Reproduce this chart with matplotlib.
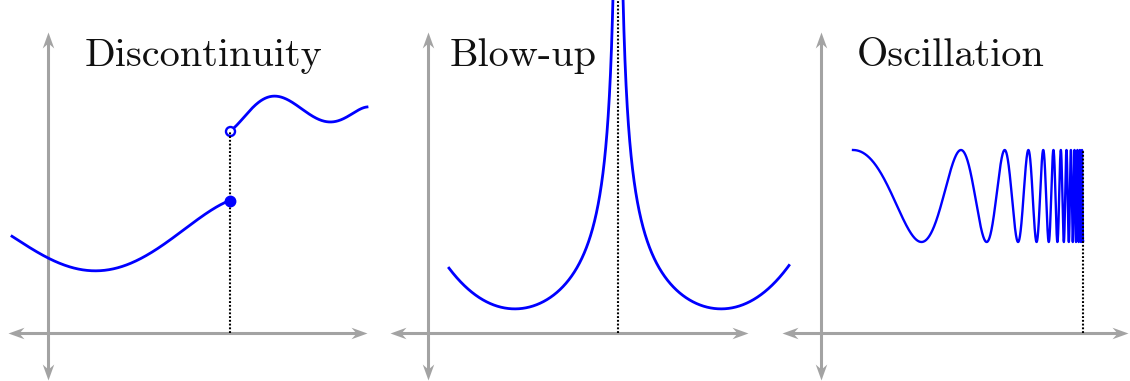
import numpy as np
import matplotlib
matplotlib.use("Agg")
import matplotlib.pyplot as plt
from matplotlib.path import Path

# figure is 1130 x 381 px, every panel uses 10 px per data unit
W, H = 1130, 381
UNIT = 10.0

# --- panel 1: discontinuity ---
lower_x = [-3.6, 0.2, 4.9, 8.5, 11.2, 13.9, 16.5, 18.2]
lower_y = [9.7, 7.3, 6.4, 7.0, 8.5, 10.6, 12.5, 13.2]
upper_x = [18.2, 20.5, 22.7, 24.2, 26.2, 28.2, 30.2, 31.9]
upper_y = [20.2, 22.6, 23.6, 23.3, 21.8, 21.1, 21.8, 22.6]
jump_x = 18.2

# --- panel 2: blow-up  y = a/sqrt(|x-x0|) + b + c*|x-x0|^3.5 ---
blow_x0 = 19.0
blow_range = [-16.9, 17.1]
blow_coef = [29.54, -8.1, 3.73e-4]

# --- panel 3: oscillation  y = mid + amp*cos(k/(t+s) - k/(T+s)), t = end - x ---
osc_range = [3.2, 26.2]
osc_mid, osc_amp = 13.7, 4.6
osc_k, osc_shift = 218.2, 2.5

titles = ["Discontinuity", "Blow-up", "Oscillation"]

# pixel layout: (left px, right px, origin x px), origin y px shared
panels_px = [(0, 378, 48), (378, 775, 428), (775, 1130, 821)]
origin_y_px = 333
hx_px = [(8, 367), (390, 748), (782, 1128)]
vy_px = (32, 380)
title_px = [85, 450, 857]
title_base_px = 66

BLUE = "#0000ff"
GRAY = "#a3a3a3"
HEAD_PX = 16  # arrow head length

fig = plt.figure(figsize=(W / 100, H / 100), dpi=100)


def stealth(angle):
    # tip at origin, pointing along +x, then rotated
    pts = np.array([(0, 0), (-1, 0.36), (-0.68, 0), (-1, -0.36), (0, 0)])
    ca, sa = np.cos(angle), np.sin(angle)
    rot = pts @ np.array([[ca, sa], [-sa, ca]])
    codes = [Path.MOVETO, Path.LINETO, Path.LINETO, Path.LINETO, Path.CLOSEPOLY]
    return Path(rot, codes)


def make_axes(left, right, ox):
    ax = fig.add_axes([left / W, 0, (right - left) / W, 1])
    ax.set_xlim((left - ox) / UNIT, (right - ox) / UNIT)
    ax.set_ylim(-(H - origin_y_px) / UNIT, origin_y_px / UNIT)
    ax.axis("off")
    return ax


def draw_axes_arrows(ax, ox, hx):
    x0, x1 = [(p - ox) / UNIT for p in hx]
    y1 = (origin_y_px - vy_px[0]) / UNIT
    y0 = (origin_y_px - vy_px[1]) / UNIT
    back = 0.6 * HEAD_PX / UNIT
    ms = 2 * HEAD_PX * 0.72
    ax.plot([x0 + back, x1 - back], [0, 0], color=GRAY, linewidth=2.2,
            solid_capstyle="butt", clip_on=False, zorder=1)
    ax.plot([0, 0], [y0 + back, y1 - back], color=GRAY, linewidth=2.2,
            solid_capstyle="butt", clip_on=False, zorder=1)
    for (px, py), ang in [((x0, 0), np.pi), ((x1, 0), 0.0),
                          ((0, y0), -np.pi / 2), ((0, y1), np.pi / 2)]:
        ax.plot([px], [py], marker=stealth(ang), markersize=ms, color=GRAY,
                markeredgewidth=0, linestyle="none", clip_on=False, zorder=1)


def dotted(ax, x, y0, y1):
    ax.plot([x, x], [y0, y1], color="black", linewidth=1.5,
            linestyle=(0, (0.9, 0.9)), clip_on=False, zorder=4)


axes = []
for (left, right, ox), hx in zip(panels_px, hx_px):
    ax = make_axes(left, right, ox)
    draw_axes_arrows(ax, ox, hx)
    axes.append(ax)

# panel 1
ax = axes[0]
xs = np.linspace(lower_x[0], lower_x[-1], 300)
ax.plot(xs, np.polyval(np.polyfit(lower_x, lower_y, 4), xs),
        color=BLUE, linewidth=2.0, clip_on=False, zorder=3)
xs = np.linspace(upper_x[0], upper_x[-1], 300)
ax.plot(xs, np.polyval(np.polyfit(upper_x, upper_y, 5), xs),
        color=BLUE, linewidth=2.0, clip_on=False, zorder=3)
ax.plot([jump_x], [upper_y[0]], "o", markersize=6.5, markerfacecolor="white",
        markeredgecolor=BLUE, markeredgewidth=1.7, zorder=3)
dotted(ax, jump_x, 0, upper_y[0])
ax.plot([jump_x], [lower_y[-1]], "o", markersize=7.5, color=BLUE, zorder=5)

# panel 2
ax = axes[1]
a, b, c = blow_coef
for lo, hi in [(blow_range[0], -0.02), (0.02, blow_range[1])]:
    u = np.linspace(lo, hi, 2000)
    r = np.abs(u)
    ax.plot(blow_x0 + u, a / np.sqrt(r) + b + c * r ** 3.5,
            color=BLUE, linewidth=2.0, clip_on=False, zorder=3)
dotted(ax, blow_x0, 0, 40)

# panel 3
ax = axes[2]
xs = np.linspace(osc_range[0], osc_range[1], 60000)
t = osc_range[1] - xs
T = osc_range[1] - osc_range[0]
phase = osc_k / (t + osc_shift) - osc_k / (T + osc_shift)
ax.plot(xs, osc_mid + osc_amp * np.cos(phase), color=BLUE, linewidth=1.7,
        clip_on=False, zorder=3)
dotted(ax, osc_range[1], 0, osc_mid + osc_amp)

# titles
for ax, (left, right, ox), tx, label in zip(axes, panels_px, title_px, titles):
    ax.text((tx - ox) / UNIT, (origin_y_px - title_base_px) / UNIT, label,
            family="cmr10", fontsize=29, color="#111111",
            ha="left", va="baseline", zorder=6)

fig.savefig("out.png", dpi=100, facecolor="white")
